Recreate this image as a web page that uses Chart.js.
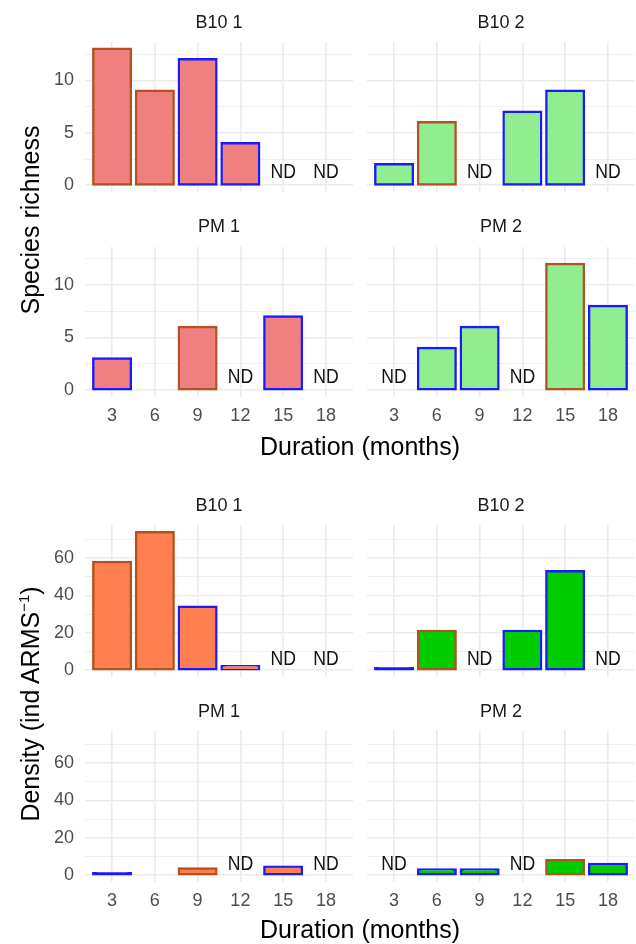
<!DOCTYPE html>
<html>
<head>
<meta charset="utf-8">
<script src="https://cdn.jsdelivr.net/npm/chart.js@4"></script>
<style>
  html, body { margin: 0; padding: 0; background: #fff; }
  #page { position: relative; width: 636px; height: 944px; overflow: hidden; font-family: 'Liberation Sans', Arial, sans-serif; }
  #page canvas { position: absolute; left: 0; top: 0; }
  .axt { position: absolute; z-index: 2; font-size: 25px; line-height: 1; color: #000; white-space: nowrap; transform: translate(-50%, -50%); }
  .rot { transform: translate(-50%, -50%) rotate(-90deg); }
  .axt sup { font-size: 60%; line-height: 0; }
</style>
</head>
<body>
<div id="page">
  <div class="axt rot" style="left:30px; top:220px">Species richness</div>
  <div class="axt" style="left:360px; top:446px">Duration (months)</div>
  <div class="axt rot" style="left:30px; top:704px">Density (ind ARMS<sup>−1</sup>)</div>
  <div class="axt" style="left:360px; top:929px">Duration (months)</div>
</div>
<script>
const months = [3, 6, 9, 12, 15, 18];
const richnessTicks = [0, 2.5, 5, 7.5, 10, 12.5];
const densityTicks = [0, 10, 20, 30, 40, 50, 60, 70];

// 'ND' = not determined, null = nothing shown
const richB10_1 = [13, 9, 12, 4, 'ND', 'ND'];
const richB10_2 = [2, 6, 'ND', 7, 9, 'ND'];
const richPM_1 = [3, null, 6, 'ND', 7, 'ND'];
const richPM_2 = ['ND', 4, 6, 'ND', 12, 8];

const densB10_1 = [58, 74, 34, 2, 'ND', 'ND'];
const densB10_2 = [1, 21, 'ND', 21, 53, 'ND'];
const densPM_1 = [1, null, 3.5, 'ND', 4.5, 'ND'];
const densPM_2 = ['ND', 3, 3, 'ND', 8, 6];

// outline group of each bar (a / b)
const grpB10_1 = ['a', 'a', 'b', 'b', null, null];
const grpB10_2 = ['b', 'a', null, 'b', 'b', null];
const grpPM_1 = ['b', null, 'a', null, 'b', null];
const grpPM_2 = [null, 'b', 'b', null, 'a', 'b'];

const BROWN = '#B3521C';
const BLUE = '#1A1AFF';
const GRID = '#EBEBEB';
const EDGE = 2.4;
Chart.defaults.font.family = "'Liberation Sans', Arial, sans-serif";

const rows = [
  {tc: 23, top: 42.0, bottom: 192.1, labels: false},
  {tc: 227, top: 246.7, bottom: 396.8, labels: true},
  {tc: 506.5, top: 525.3, bottom: 676.9, labels: false},
  {tc: 711.7, top: 730.3, bottom: 881.9, labels: true}
];
const cols = [
  {left: 85, right: 353, yLabels: true},
  {left: 367, right: 635, yLabels: false}
];
const kinds = {
  rich: {min: -0.65, max: 13.65, ticks: richnessTicks, major: 5, ndY: 1.2},
  dens: {min: -3.7, max: 77.7, ticks: densityTicks, major: 20, ndY: 6}
};

const panels = [
  {title: 'B10 1', vals: richB10_1, grp: grpB10_1, fill: '#F08080', kind: 'rich', row: 0, col: 0},
  {title: 'B10 2', vals: richB10_2, grp: grpB10_2, fill: '#90EE90', kind: 'rich', row: 0, col: 1},
  {title: 'PM 1', vals: richPM_1, grp: grpPM_1, fill: '#F08080', kind: 'rich', row: 1, col: 0},
  {title: 'PM 2', vals: richPM_2, grp: grpPM_2, fill: '#90EE90', kind: 'rich', row: 1, col: 1},
  {title: 'B10 1', vals: densB10_1, grp: grpB10_1, fill: '#FF7F50', kind: 'dens', row: 2, col: 0},
  {title: 'B10 2', vals: densB10_2, grp: grpB10_2, fill: '#00CD00', kind: 'dens', row: 2, col: 1},
  {title: 'PM 1', vals: densPM_1, grp: grpPM_1, fill: '#FF7F50', kind: 'dens', row: 3, col: 0},
  {title: 'PM 2', vals: densPM_2, grp: grpPM_2, fill: '#00CD00', kind: 'dens', row: 3, col: 1}
];

// "ND" markers, placed through the chart scales
function ndLabels(vals, ndY) {
  return {
    id: 'ndLabels',
    afterDatasetsDraw(chart) {
      const {ctx, scales: {x, y}} = chart;
      vals.forEach((v, i) => {
        if (v !== 'ND') return;
        ctx.save();
        ctx.translate(x.getPixelForValue(months[i]), y.getPixelForValue(ndY));
        ctx.scale(0.84, 1);   // narrow face like the original
        ctx.font = "21px 'Liberation Sans', Arial, sans-serif";
        ctx.fillStyle = '#111';
        ctx.textAlign = 'center';
        ctx.textBaseline = 'middle';
        ctx.fillText('ND', 0, 0);
        ctx.restore();
      });
    }
  };
}

const page = document.getElementById('page');
panels.forEach(p => {
  const row = rows[p.row], col = cols[p.col], k = kinds[p.kind];
  const cv = document.createElement('canvas');
  cv.width = 636;
  cv.height = 944;
  page.insertBefore(cv, page.firstChild);

  const bars = [];
  p.vals.forEach((v, i) => {
    if (typeof v === 'number') bars.push({x: months[i], y: v, g: p.grp[i]});
  });
  const xH = row.labels ? 40 : 0;
  const edgeOf = b => b.g === 'a' ? BROWN : BLUE;

  new Chart(cv, {
    type: 'bar',
    data: {
      datasets: [{
        data: bars.map(b => ({x: b.x, y: b.y})),
        // very short bars are all outline, as in the original
        backgroundColor: c => {
          const ys = c.chart.scales.y;
          if (!ys || !c.raw) return p.fill;
          const h = ys.getPixelForValue(0) - ys.getPixelForValue(c.raw.y);
          return h <= EDGE ? edgeOf(bars[c.dataIndex]) : p.fill;
        },
        borderColor: bars.map(edgeOf),
        borderWidth: EDGE,
        borderSkipped: false,
        inflateAmount: EDGE / 2,
        categoryPercentage: 0.88,
        barPercentage: 1
      }]
    },
    options: {
      responsive: false,
      animation: false,
      events: [],
      layout: {
        padding: {
          left: col.yLabels ? 0 : col.left,
          right: 636 - col.right,
          top: row.tc - 10.8,
          bottom: 944 - row.bottom - xH
        }
      },
      plugins: {
        legend: {display: false},
        tooltip: {enabled: false},
        title: {
          display: true,
          text: p.title,
          fullSize: false,
          color: '#1A1A1A',
          font: {size: 18, weight: 'normal'},
          padding: {top: 0, bottom: row.top - row.tc - 10.8}
        }
      },
      scales: {
        x: {
          type: 'linear',
          min: 1.1,
          max: 19.9,
          offset: false,
          grid: {color: GRID, lineWidth: 1.6, drawTicks: false, offset: false},
          border: {display: false},
          ticks: {display: row.labels, color: '#4D4D4D', font: {size: 18}, padding: 8, autoSkip: false, maxRotation: 0},
          afterBuildTicks: s => { s.ticks = months.map(v => ({value: v})); },
          afterFit: s => { s.height = xH; }
        },
        y: {
          min: k.min,
          max: k.max,
          grid: {
            color: GRID,
            drawTicks: false,
            lineWidth: c => (c.tick && c.tick.value % k.major === 0) ? 1.6 : 0.8
          },
          border: {display: false},
          ticks: {
            display: col.yLabels, color: '#4D4D4D', font: {size: 18}, padding: 11, autoSkip: false,
            callback: v => v % k.major === 0 ? v : ''
          },
          afterBuildTicks: s => { s.ticks = k.ticks.map(v => ({value: v})); },
          afterFit: s => { s.width = col.yLabels ? col.left : 0; }
        }
      }
    },
    plugins: [ndLabels(p.vals, k.ndY)]
  });
});
</script>
</body>
</html>
